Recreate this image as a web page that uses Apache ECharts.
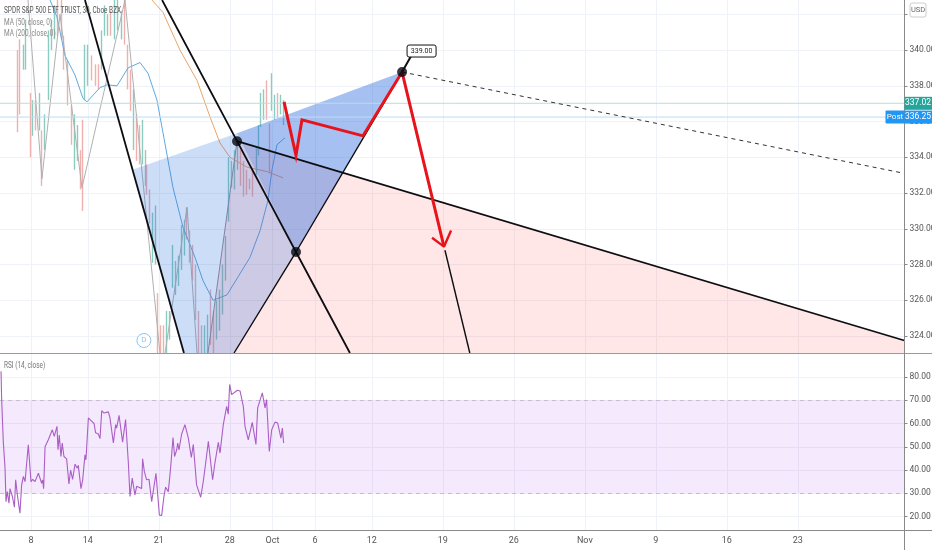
<!DOCTYPE html>
<html><head><meta charset="utf-8">
<style>html,body{margin:0;padding:0;background:#fff}#c{width:932px;height:550px}</style>
<script src="https://cdn.jsdelivr.net/npm/echarts@6/dist/echarts.min.js"></script>
</head><body><div id="c"></div>
<script>
// x is measured in trading days from the "8" tick
const tickValues=[0,4,9,14,17,20,24,29,34,39,44,49,54];
const tickLabels=['8','14','21','28','Oct','6','12','19','26','Nov','9','16','23'];
const priceTicks=[340,338,336,334,332,330,328,326,324];
const candleX=[-0.92,-0.77,-0.49,-0.35,0,0.14,0.35,0.63,0.77,0.99,1.27,1.48,1.69,1.9,2.18,2.32,2.61,2.89,3.1,3.31,3.52,3.66,3.8,4.01,4.3,4.58,4.79,5,5.21,5.42,5.63,5.92,6.13,6.41,6.62,6.83,7.04,7.25,7.46,7.68,7.89,8.1,8.17,8.38,8.59,8.8,8.94,9.15,9.37,9.58,9.79,10,10.21,10.42,10.63,10.85,10.99,11.2,11.41,11.62,11.83,12.04,12.25,12.46,12.68,12.89,13.1,13.31,13.52,13.73,13.94,14.15,14.37,14.58,14.79,15,15.21,15.42,15.63,15.92,16.06,16.2,16.41,16.62,16.83,16.97,17.18,17.39,17.61,17.82];
const candleTop=[340,340.6,340.3,341.7,337.6,337.2,337.2,337.6,335.5,336.4,341.1,341.7,342.5,342.8,342.8,340.8,339.4,336.9,336.4,335.8,334.4,336.1,340.3,340.3,339.7,339.2,339.2,341.1,342.5,342,342.2,342.8,342.8,342.2,342.8,340.3,338.9,337.8,336.4,335.8,336.1,334.4,333.6,332.2,330.9,331.3,326.4,324.6,324.6,325.4,325.4,329.1,328.2,328.5,330.2,330.5,331.2,329.9,329.1,328,325.4,324.6,324.6,325.2,326.6,325.4,326,326.6,328,329.6,334,333.8,334.4,335,334.4,333.8,333.3,332.8,333.3,334.5,335.8,337.6,337.8,338.3,335.9,338.7,337.5,337.6,337.5,337.2];
const candleBottom=[335.4,336.4,338.9,338.9,334,335.2,335.5,335.5,332.4,334.4,337.2,340,340.6,340.8,340.6,338.9,336.9,334.7,333.3,333.8,332.2,331,337.2,338,338.3,338,337.8,338.9,340.8,340.8,340.8,340.6,341.1,340.6,340.3,337.8,336.6,334.4,333.8,333.6,333.6,332.4,331.9,330.3,328.1,328,323,323,323,323,323.8,326.7,326.3,326.8,327.7,328.5,329.4,328.1,327.1,324.9,323,323,323,323,323.5,323,323.8,324.3,325.2,327.1,330.4,332.3,332.2,333.3,332.4,331.8,331.9,332.2,331.8,333,334.1,335.7,336.1,336.1,333.1,336.6,336.1,336.2,336.4,335.8];
const candleFalls=[1,1,0,0,1,0,1,0,1,0,0,0,0,1,1,1,1,1,0,0,1,1,0,0,1,1,1,0,0,0,1,0,0,0,1,1,1,0,1,1,0,0,1,1,0,0,1,1,1,0,0,0,0,0,0,0,1,1,1,1,1,1,0,0,1,1,0,0,0,0,0,0,0,0,1,1,1,1,1,0,0,0,0,1,1,0,0,1,0,0];
const ma50=[[1.34,342.8],[1.83,341.85],[2.39,339.7],[3.1,338.6],[3.66,337.3],[3.94,337.1],[4.86,337.9],[5.35,338.05],[6.06,338],[6.83,339],[7.68,339.3],[8.24,338.7],[8.87,337.2],[9.3,335.35],[10,332.3],[10.7,330.1],[11.55,328.4],[12.11,327.1],[12.82,326],[13.8,326.3],[15.42,328.4],[16.13,329.9],[16.69,331.6],[16.97,333.3],[17.32,334.7],[17.89,335.1]];
const ma200=[[8.52,342.8],[9.3,342.1],[10.49,340],[11.69,338.3],[12.61,336.25],[13.31,334.8],[14.01,334],[15.21,333.45],[16.62,333.2],[17.75,332.85]];
const grayZig1=[[-0.21,342.8],[0.77,332.8],[2.04,342],[3.59,332.3],[6.62,342.8],[9.08,323.05]];
const grayZig2=[[9.44,323.05],[10.99,331.2],[11.69,323.05]];
const grayZig3=[[12.46,323.05],[14.51,334.9]];
const blackLines=[
 [[3.8,342.8],[10.77,323.05]],
 [[9.23,342.8],[14.51,334.9],[18.66,328.7],[22.46,323.05]],
 [[14.51,334.9],[61.5,323.75]],
 [[26.13,338.77],[18.66,328.7],[14.3,323.05]],
 [[29.15,328.8],[30.9,323.05]]];
const dashedLine=[[26.13,338.77],[61.5,333.1]];
const redPath=[[17.82,337.1],[18.66,334.1],[19.08,336.1],[23.38,335.2],[26.13,338.77],[29.08,329]];
const redArrow=[[28.24,329.5],[29.08,329],[29.58,329.9]];
const dots=[[14.51,334.9],[18.66,328.7],[26.13,338.77]];
const polyLight=[[7.15,333.3],[14.51,335.35],[18.66,328.7],[14.3,323.05],[10.77,323.05]];
const polyBlue=[[14.51,335.35],[26.13,338.77],[18.66,328.7]];
const polyPink=[[14.51,334.9],[61.51,323.75],[61.51,323.05],[12.46,323.05]];
const rsiX=[-2.11,-2.07,-1.95,-1.83,-1.76,-1.67,-1.55,-1.48,-1.31,-1.17,-1.08,-0.96,-0.78,-0.66,-0.54,-0.42,-0.19,-0.12,0,0.12,0.28,0.52,0.63,0.75,0.82,0.89,0.99,1.22,1.5,1.64,1.83,1.9,1.99,2.11,2.2,2.32,2.51,2.67,2.79,2.93,3.1,3.26,3.33,3.52,3.64,3.8,3.87,4.04,4.27,4.44,4.55,4.74,4.86,4.98,5.14,5.45,5.56,5.8,5.96,6.03,6.2,6.45,6.66,6.85,6.97,7.13,7.32,7.44,7.79,7.86,7.98,8.07,8.14,8.31,8.5,8.8,9.04,9.2,9.36,9.48,9.67,9.83,10,10.11,10.26,10.33,10.42,10.61,10.84,11.08,11.29,11.43,11.66,11.95,12.13,12.3,12.49,12.79,12.95,13.19,13.31,13.54,13.78,13.89,13.99,14.13,14.25,14.53,14.72,14.95,15.07,15.3,15.58,15.84,15.96,16.29,16.48,16.59,16.78,16.95,17.18,17.37,17.6,17.7,17.79];
const rsiY=[82.5,71,52,41,26.4,30.7,25.7,32,28.6,24,35.8,29.3,21.4,33.6,37.2,35,50.9,50.6,35,36,35,38.6,39.4,34.3,35.8,32,50,53,57.3,54.5,58.8,48.7,55,45.8,51.6,45.8,44.8,34,40,36,42.5,40.8,42,32,35.8,46.5,44.4,62.4,61,60,56,55.5,53.5,65.5,64.5,65,62.4,51.6,59.5,58,63.5,52,61.7,43.7,28.6,36.5,29.3,33,32,44.8,39.4,40,35.8,36,26.4,38.6,20.6,20.4,28.6,32.6,30.7,40.8,54,45.8,48.7,51.6,48.7,55.5,59.5,53.7,45.4,51,33.6,28.3,35,43,52.3,35.8,43,51.9,47.3,59.5,67.4,64,76.8,72.4,71.7,74.3,74,67.4,58.8,53,60.5,51,66.7,73.2,66.7,70.3,48,57.3,60.6,60.2,53.7,58,51.6];
const lastClose=337.02, postClose=336.25, targetPrice=339, dividendAt=[7.95,323.75];

const XMIN=-2.183,XMAX=61.51,YMIN=323.05,YMAX=342.8;
const FONT='Roboto, "Liberation Sans", sans-serif';
const GRID='#eff2f6';
const xBase={type:'value',min:XMIN,max:XMAX,
  axisLine:{show:false},
  axisTick:{show:false,customValues:tickValues},
  splitLine:{show:true,lineStyle:{color:GRID,width:1}}};
const polyItem=(pts,fill)=>(params,api)=>{
  if(params.dataIndex>0) return;
  return {type:'polygon',shape:{points:pts.map(p=>api.coord(p))},style:{fill:fill},silent:true};
};
const poly=(pts,fill,z)=>({type:'custom',xAxisIndex:0,yAxisIndex:0,z:z,silent:true,data:[[pts[0][0],pts[0][1]]],encode:{x:0,y:1},renderItem:polyItem(pts,fill)});
const line=(pts,color,width,z,extra)=>Object.assign({type:'line',xAxisIndex:0,yAxisIndex:0,data:pts,showSymbol:false,symbol:'none',silent:true,z:z,lineStyle:{color:color,width:width},clip:true},extra||{});
const priceTag=(price,text,fill,postText)=>({type:'custom',xAxisIndex:0,yAxisIndex:0,z:30,silent:true,clip:false,data:[[XMAX,price]],encode:{x:0,y:1},
  renderItem:(p,api)=>{
    const c=api.coord([XMAX,price]);const ch=[];
    if(postText){
      ch.push({type:'rect',shape:{x:c[0]-19,y:c[1]-6.5,width:19,height:13,r:[1,0,0,1]},style:{fill:fill}});
      ch.push({type:'text',style:{text:postText,x:c[0]-9.5,y:c[1],fill:'#fff',font:'8px '+FONT,align:'center',verticalAlign:'middle'}});
    }
    ch.push({type:'rect',shape:{x:c[0],y:c[1]-6.5,width:27.5,height:13},style:{fill:fill}});
    ch.push({type:'text',style:{text:text,x:c[0]+13.5,y:c[1],fill:'#fff',font:'8.5px '+FONT,align:'center',verticalAlign:'middle'}});
    return {type:'group',children:ch};
  }});
const series=[
 {type:'candlestick',xAxisIndex:0,yAxisIndex:0,z:2,silent:true,barWidth:1,clip:true,
  encode:{x:0,y:[1,2,3,4]},
  data:candleX.map((x,i)=>candleFalls[i]?[x,candleTop[i],candleBottom[i],candleBottom[i],candleTop[i]]:[x,candleBottom[i],candleTop[i],candleBottom[i],candleTop[i]]),
  itemStyle:{color:'#8ccbbf',color0:'#efb0ae',borderColor:'#8ccbbf',borderColor0:'#efb0ae',borderWidth:1.4}},
 line(ma50,'#5ea9e2',1,3),
 line(ma200,'#eca467',1,3),
 line(grayZig1,'#b0b0b0',1,3),
 line(grayZig2,'#b0b0b0',1,3),
 line(grayZig3,'#8f8f9f',1,3),
 poly(polyPink,'rgba(255,82,82,0.14)',4),
 poly(polyLight,'rgba(33,110,220,0.23)',5),
 poly(polyBlue,'rgba(33,100,220,0.40)',5),
 line([[XMIN,lastClose],[XMAX,lastClose]],'#b6e0da',1,6),
 line([[XMIN,postClose],[XMAX,postClose]],'#bcdcf8',1,6),
];
blackLines.forEach((l,i)=>series.push(line(l,'#0d0d12',i<3?1.8:1.4,8)));
series.push(line(dashedLine,'#333',1,8,{lineStyle:{color:'#333',width:1,type:[4,4]}}));
series.push(line(redPath,'#e8141c',3,10,{lineStyle:{color:'#e8141c',width:3,join:'miter'}}));
series.push(line(redArrow,'#e8141c',2.4,10));
series.push({type:'scatter',xAxisIndex:0,yAxisIndex:0,z:12,silent:true,data:dots,symbolSize:10,itemStyle:{color:'#05070f'}});
series.push({type:'scatter',xAxisIndex:0,yAxisIndex:0,z:12,silent:true,data:[dividendAt],symbol:'circle',symbolSize:14,
  itemStyle:{color:'#fff',borderColor:'#6db8f0',borderWidth:1},
  label:{show:true,position:'inside',formatter:'D',color:'#6db8f0',fontSize:8,fontFamily:FONT}});
// callout for the 339.00 target
series.push({type:'custom',xAxisIndex:0,yAxisIndex:0,z:14,silent:true,clip:false,data:[[dots[2][0],targetPrice]],encode:{x:0,y:1},
  renderItem:(p,api)=>{
    const c=api.coord(dots[2]);
    return {type:'group',children:[
      {type:'line',shape:{x1:c[0],y1:c[1],x2:c[0]+9,y2:c[1]-16},style:{stroke:'#111',lineWidth:2}},
      {type:'rect',shape:{x:c[0]+5,y:c[1]-27,width:29,height:12,r:2},style:{fill:'#fff',stroke:'#111',lineWidth:1}},
      {type:'text',style:{text:targetPrice.toFixed(2),x:c[0]+19.5,y:c[1]-21,fill:'#222',font:'7px '+FONT,align:'center',verticalAlign:'middle'}}
    ]};
  }});
series.push(priceTag(lastClose,lastClose.toFixed(2),'#26a69a'));
series.push(priceTag(postClose,postClose.toFixed(2),'#2196f3','Post'));
series.push({type:'line',xAxisIndex:1,yAxisIndex:1,z:5,silent:true,showSymbol:false,symbol:'none',
  data:rsiX.map((x,i)=>[x,rsiY[i]]),lineStyle:{color:'#a95fc4',width:1.1},
  markArea:{silent:true,itemStyle:{color:'rgba(156,39,235,0.10)'},data:[[{yAxis:30,xAxis:XMIN},{yAxis:70,xAxis:XMAX}]]},
  markLine:{silent:true,symbol:'none',label:{show:false},lineStyle:{color:'#c9bcd2',width:1,type:[4,4]},data:[{yAxis:70},{yAxis:30}]}});

const chart=echarts.init(document.getElementById('c'),null,{renderer:'canvas'});
const legendText=(text,y,fill)=>({type:'text',z:25,x:4,y:y,scaleX:0.68,style:{text:text,x:0,y:0,fill:fill,font:'9.5px '+FONT,verticalAlign:'middle'}});
chart.setOption({
 animation:false,backgroundColor:'#fff',
 grid:[{left:0,top:0,width:904.5,height:353,outerBoundsMode:'none'},{left:0,top:354,width:904.5,height:176,outerBoundsMode:'none'}],
 xAxis:[
  Object.assign({},xBase,{gridIndex:0,axisLabel:{show:false}}),
  Object.assign({},xBase,{gridIndex:1,position:'bottom',
    axisLabel:{show:true,customValues:tickValues,color:'#555',fontSize:9,fontFamily:FONT,margin:6,hideOverlap:false,showMinLabel:true,
      formatter:v=>tickLabels[tickValues.indexOf(v)]}})
 ],
 yAxis:[
  {type:'value',gridIndex:0,position:'right',min:YMIN,max:YMAX,interval:2,
   axisLine:{show:false,onZero:false},axisTick:{show:true,length:3,lineStyle:{color:'#888'},customValues:[342].concat(priceTicks)},
   splitLine:{show:true,lineStyle:{color:GRID}},
   axisLabel:{customValues:priceTicks,color:'#555',fontSize:8.5,fontFamily:FONT,margin:5,formatter:v=>v.toFixed(2)}},
  {type:'value',gridIndex:1,position:'right',min:14.2,max:89.9,
   axisLine:{show:false,onZero:false},axisTick:{show:true,length:3,lineStyle:{color:'#888'},customValues:[20,30,40,50,60,70,80]},
   splitLine:{show:true,lineStyle:{color:GRID}},
   axisLabel:{customValues:[20,30,40,50,60,70,80],color:'#555',fontSize:8.5,fontFamily:FONT,margin:5,formatter:v=>v.toFixed(2)}}
 ],
 graphic:[
  {type:'line',z:20,shape:{x1:0,y1:353.5,x2:932,y2:353.5},style:{stroke:'#9a9a9a',lineWidth:1}},
  {type:'line',z:20,shape:{x1:0,y1:530.5,x2:932,y2:530.5},style:{stroke:'#8a8a8a',lineWidth:1}},
  {type:'line',z:20,shape:{x1:904.5,y1:0,x2:904.5,y2:550},style:{stroke:'#8a8a8a',lineWidth:1}},
  legendText('SPDR S&P 500 ETF TRUST, 30, Cboe BZX',11,'#555'),
  legendText('MA (50, close, 0)',22.5,'#888'),
  legendText('MA (200, close, 0)',34,'#888'),
  legendText('RSI (14, close)',365.5,'#777'),
  {type:'rect',z:25,shape:{x:910,y:3,width:16,height:14,r:2},style:{fill:'#fff',stroke:'#ccc',lineWidth:1}},
  {type:'text',z:26,style:{text:'USD',x:918,y:10,fill:'#666',font:'7.5px '+FONT,align:'center',verticalAlign:'middle'}}
 ],
 series:series
});
</script></body></html>
